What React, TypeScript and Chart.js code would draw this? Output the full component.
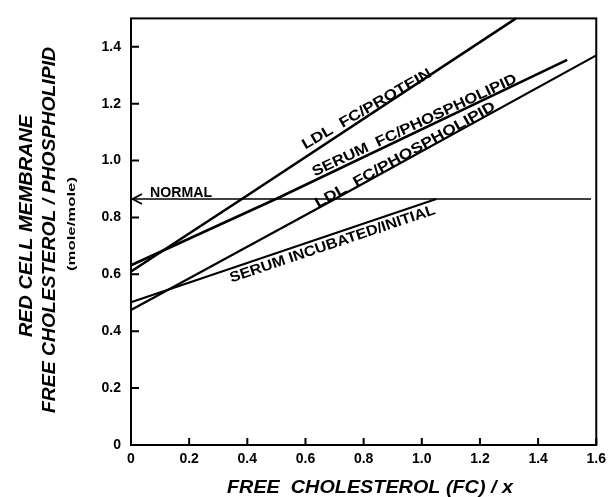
import React, { useEffect, useRef } from "react";
import { Chart, registerables } from "chart.js";

Chart.register(...registerables);

// Axis ticks
const xTickValues = [0, 0.2, 0.4, 0.6, 0.8, 1.0, 1.2, 1.4, 1.6];
const yTickValues = [0, 0.2, 0.4, 0.6, 0.8, 1.0, 1.2, 1.4];

// Series (x, y)
const ldlProteinX = [0, 0.38, 1.324];
const ldlProteinY = [0.61, 0.864, 1.5];
const serumPlX = [0, 0.5, 1.5];
const serumPlY = [0.632, 0.866, 1.354];
const ldlPlX = [0, 0.7, 1.6];
const ldlPlY = [0.475, 0.864, 1.37];
const serumIncX = [0, 1.05];
const serumIncY = [0.502, 0.865];
const normalX = [0, 1.582];
const normalY = [0.865, 0.865];

// Line labels (text, anchor in data units)
const labelTexts = [
  "LDL  FC/PROTEIN",
  "SERUM  FC/PHOSPHOLIPID",
  "LDL  FC/PHOSPHOLIPID",
  "SERUM INCUBATED/INITIAL",
  "NORMAL",
];
const labelX = [0.809, 0.973, 0.941, 0.692, 0.172];
const labelY = [1.184, 1.127, 1.023, 0.71, 0.89];

const xTitle = "FREE  CHOLESTEROL (FC) / x";
const yTitleLines = ["RED CELL MEMBRANE", "FREE CHOLESTEROL / PHOSPHOLIPID", "(mole/mole)"];

// styling for labels (angle in degrees, fitted width in px)
const labelStyle = [
  { angle: 30, width: 147 },
  { angle: 25, width: 224 },
  { angle: 29, width: 204 },
  { angle: 18.6, width: 216 },
  { angle: 0, width: 62 },
];

const FAMILY = '"Liberation Sans", Arial, sans-serif';

function toPoints(xs: number[], ys: number[]) {
  return xs.map((x, i) => ({ x, y: ys[i] }));
}

function drawFit(
  ctx: CanvasRenderingContext2D,
  text: string,
  cx: number,
  cy: number,
  angleDeg: number,
  width: number,
  font: string,
  size: number
) {
  ctx.save();
  ctx.translate(cx, cy);
  ctx.rotate((-angleDeg * Math.PI) / 180);
  ctx.font = font;
  const w = ctx.measureText(text).width;
  ctx.scale(width / w, 1);
  ctx.textAlign = "center";
  ctx.textBaseline = "alphabetic";
  ctx.fillStyle = "#000";
  ctx.fillText(text, 0, size * 0.36);
  ctx.restore();
}

const decorPlugin = {
  id: "decor",
  afterDraw(chart: any) {
    const ctx: CanvasRenderingContext2D = chart.ctx;
    const { left, right, top, bottom } = chart.chartArea;
    const xs = chart.scales.x;
    const ys = chart.scales.y;
    ctx.save();
    ctx.strokeStyle = "#000";
    ctx.lineWidth = 2;
    ctx.strokeRect(left, top, right - left, bottom - top);
    // inner ticks
    ctx.beginPath();
    xTickValues.forEach((v) => {
      const px = xs.getPixelForValue(v);
      ctx.moveTo(px, bottom);
      ctx.lineTo(px, bottom - 7);
    });
    yTickValues.forEach((v) => {
      const py = ys.getPixelForValue(v);
      ctx.moveTo(left, py);
      ctx.lineTo(left + 8, py);
    });
    ctx.stroke();
    // arrow at left end of NORMAL line
    const ax = xs.getPixelForValue(normalX[0]);
    const ay = ys.getPixelForValue(normalY[0]);
    ctx.lineWidth = 1.8;
    ctx.beginPath();
    ctx.moveTo(ax + 11, ay - 5);
    ctx.lineTo(ax + 1.5, ay);
    ctx.lineTo(ax + 11, ay + 5);
    ctx.stroke();
    ctx.restore();

    // line labels
    labelTexts.forEach((t, i) => {
      const px = xs.getPixelForValue(labelX[i]);
      const py = ys.getPixelForValue(labelY[i]);
      drawFit(ctx, t, px, py, labelStyle[i].angle, labelStyle[i].width, `bold 14.5px ${FAMILY}`, 14.5);
    });

    // axis titles
    drawFit(ctx, xTitle, 370, 486.5, 0, 286, `italic bold 18px ${FAMILY}`, 18);
    drawFit(ctx, yTitleLines[0], 26, 226, 90, 222, `italic bold 18px ${FAMILY}`, 18);
    drawFit(ctx, yTitleLines[1], 49, 230, 90, 366, `italic bold 18px ${FAMILY}`, 18);
    drawFit(ctx, yTitleLines[2], 71, 224, 90, 94, `bold 11px ${FAMILY}`, 11);
  },
};

export default function App() {
  const ref = useRef<HTMLCanvasElement | null>(null);
  useEffect(() => {
    if (!ref.current) return;
    const lineDs = (label: string, xs: number[], ys: number[], width: number) => ({
      label,
      data: toPoints(xs, ys),
      showLine: true,
      borderColor: "#000",
      backgroundColor: "#000",
      borderWidth: width,
      pointRadius: 0,
      tension: 0,
      clip: false as any,
    });
    const chart = new Chart(ref.current, {
      type: "scatter",
      data: {
        datasets: [
          lineDs(labelTexts[0], ldlProteinX, ldlProteinY, 2.6),
          lineDs(labelTexts[1], serumPlX, serumPlY, 2.6),
          lineDs(labelTexts[2], ldlPlX, ldlPlY, 2.2),
          lineDs(labelTexts[3], serumIncX, serumIncY, 2.0),
          lineDs(labelTexts[4], normalX, normalY, 1.7),
        ],
      },
      options: {
        animation: false,
        responsive: false,
        layout: { padding: { left: 0, top: 9, right: 15, bottom: 0 } },
        plugins: { legend: { display: false }, tooltip: { enabled: false }, title: { display: false } },
        scales: {
          x: {
            type: "linear",
            min: 0,
            max: 1.6,
            grid: { display: false, drawTicks: false },
            border: { display: false },
            afterFit: (s: any) => {
              s.height = 52;
            },
            afterBuildTicks: (s: any) => {
              s.ticks = xTickValues.map((v) => ({ value: v }));
            },
            ticks: {
              padding: 6,
              color: "#000",
              font: { family: FAMILY, size: 14, weight: "bold" },
              callback: (v: any) => (Number(v) === 0 ? "0" : Number(v).toFixed(1)),
              maxRotation: 0,
              autoSkip: false,
            },
          },
          y: {
            type: "linear",
            min: 0,
            max: 1.5,
            grid: { display: false, drawTicks: false },
            border: { display: false },
            afterFit: (s: any) => {
              s.width = 131;
            },
            afterBuildTicks: (s: any) => {
              s.ticks = yTickValues.map((v) => ({ value: v }));
            },
            ticks: {
              padding: 10,
              color: "#000",
              font: { family: FAMILY, size: 14, weight: "bold" },
              callback: (v: any) => (Number(v) === 0 ? "0" : Number(v).toFixed(1)),
              autoSkip: false,
            },
          },
        },
      },
      plugins: [decorPlugin],
    } as any);
    return () => chart.destroy();
  }, []);
  return (
    <div style={{ position: "fixed", left: 0, top: 0, width: 612, height: 497, background: "#fff" }}>
      <canvas ref={ref} width={612} height={497} style={{ width: 612, height: 497, display: "block" }} />
    </div>
  );
}
